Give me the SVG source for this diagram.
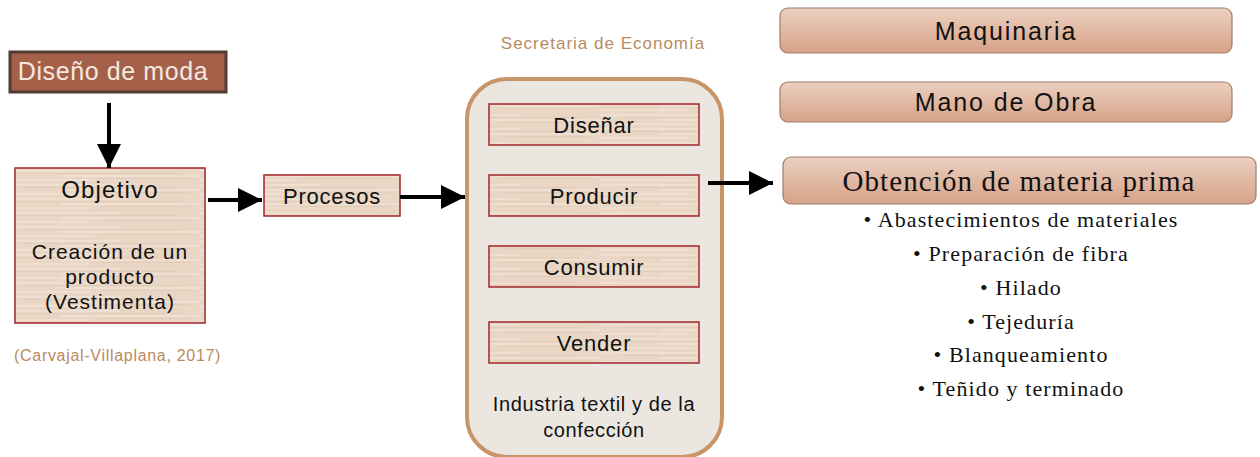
<svg xmlns="http://www.w3.org/2000/svg" width="1260" height="457" viewBox="0 0 1260 457">
<style>
.sans{font-family:"Liberation Sans",Arial,sans-serif;}
.serif{font-family:"Liberation Serif","Times New Roman",serif;}
.wood{fill:url(#woodPat);stroke:#a3262a;stroke-width:1.5;}
.pill{fill:url(#pillGrad);stroke:#a07e6c;stroke-width:1.2;}
.lbl{font-size:22px;fill:#111;text-anchor:middle;letter-spacing:0.8px;}
.cite{font-size:16px;fill:#b98a5f;letter-spacing:0.7px;}
.conn{stroke:#000;stroke-width:4;fill:none;}
.bul{font-size:22px;fill:#111;text-anchor:middle;letter-spacing:1.1px;}
.pt{font-size:25px;fill:#111;text-anchor:middle;letter-spacing:1.9px;}
</style>
<defs>
<pattern id="woodPat" width="200" height="14" patternUnits="userSpaceOnUse">
<rect width="200" height="14" fill="#e9d6c4"/>
<path d="M0 3 H120 M60 8 H200 M0 12 H90" stroke="#f3e7dc" stroke-width="1.5" opacity="0.7"/>
<path d="M20 5.5 H180 M100 10.5 H190" stroke="#dcc6b1" stroke-width="1" opacity="0.6"/>
</pattern>
<linearGradient id="pillGrad" x1="0" y1="0" x2="0" y2="1">
<stop offset="0" stop-color="#ecd0c0"/>
<stop offset="1" stop-color="#d6a288"/>
</linearGradient>
<marker id="ah" viewBox="0 0 10 10" refX="10" refY="5" markerWidth="6" markerHeight="6" markerUnits="strokeWidth" orient="auto">
<path d="M0 0 L10 5 L0 10 Z" fill="#000"/>
</marker>
</defs>
<rect width="1260" height="457" fill="#fff"/>

<g id="diseno-moda">
<rect x="10" y="52" width="216" height="40" fill="#a5604a" stroke="#4d3d33" stroke-width="3"/>
<text class="sans" x="113" y="80" font-size="25" fill="#f5e8e0" text-anchor="middle" letter-spacing="0.6">Diseño de moda</text>
</g>

<g id="objetivo">
<rect class="wood" x="15" y="168" width="190" height="155"/>
<text class="sans" x="110" y="198" font-size="24" fill="#111" text-anchor="middle" letter-spacing="1.2">Objetivo</text>
<text class="sans" x="110" y="259" font-size="21" fill="#111" text-anchor="middle" letter-spacing="1">Creación de un</text>
<text class="sans" x="110" y="284" font-size="21" fill="#111" text-anchor="middle" letter-spacing="1">producto</text>
<text class="sans" x="110" y="309" font-size="21" fill="#111" text-anchor="middle" letter-spacing="1">(Vestimenta)</text>
</g>

<text id="cita" class="sans cite" x="14" y="361">(Carvajal-Villaplana, 2017)</text>

<g id="procesos">
<rect class="wood" x="264" y="175" width="136" height="41"/>
<text class="sans lbl" x="332" y="204">Procesos</text>
</g>

<text id="secretaria" class="sans" x="603" y="49" font-size="17" fill="#b98a5f" text-anchor="middle" letter-spacing="1">Secretaria de Economía</text>

<g id="industria">
<rect x="467" y="79" width="255" height="378" rx="40" fill="#ebe7e0" stroke="#c8946a" stroke-width="4"/>
<text class="sans" x="594" y="411" font-size="20" fill="#111" text-anchor="middle" letter-spacing="0.6">Industria textil y de la</text>
<text class="sans" x="594" y="437" font-size="20" fill="#111" text-anchor="middle" letter-spacing="0.6">confección</text>
</g>

<g id="disenar">
<rect class="wood" x="489" y="104" width="210" height="41"/>
<text class="sans lbl" x="594" y="133">Diseñar</text>
</g>
<g id="producir">
<rect class="wood" x="489" y="175" width="210" height="41"/>
<text class="sans lbl" x="594" y="204">Producir</text>
</g>
<g id="consumir">
<rect class="wood" x="489" y="246" width="210" height="41"/>
<text class="sans lbl" x="594" y="275">Consumir</text>
</g>
<g id="vender">
<rect class="wood" x="489" y="322" width="210" height="41"/>
<text class="sans lbl" x="594" y="351">Vender</text>
</g>

<g id="maquinaria">
<rect class="pill" x="780" y="8" width="452" height="45" rx="8"/>
<text class="sans pt" x="1006" y="40">Maquinaria</text>
</g>
<g id="mano-obra">
<rect class="pill" x="780" y="82" width="452" height="40" rx="8"/>
<text class="sans pt" x="1006" y="111">Mano de Obra</text>
</g>
<g id="obtencion">
<rect class="pill" x="783" y="157" width="473" height="47" rx="8"/>
<text class="serif" x="1019" y="191" font-size="29" fill="#111" text-anchor="middle" letter-spacing="1.1">Obtención de materia prima</text>
<text class="serif bul" x="1021" y="227">• Abastecimientos  de materiales</text>
<text class="serif bul" x="1021" y="261">• Preparación  de fibra</text>
<text class="serif bul" x="1021" y="295">• Hilado</text>
<text class="serif bul" x="1021" y="329">• Tejeduría</text>
<text class="serif bul" x="1021" y="362">• Blanqueamiento</text>
<text class="serif bul" x="1021" y="396">• Teñido y terminado</text>
</g>

<g id="connectors">
<line class="conn" x1="109" y1="103" x2="109" y2="168" marker-end="url(#ah)"/>
<line class="conn" x1="208" y1="200" x2="262" y2="200" marker-end="url(#ah)"/>
<line class="conn" x1="400" y1="197" x2="465" y2="197" marker-end="url(#ah)"/>
<line class="conn" x1="708" y1="183" x2="773" y2="183" marker-end="url(#ah)"/>
</g>
</svg>
